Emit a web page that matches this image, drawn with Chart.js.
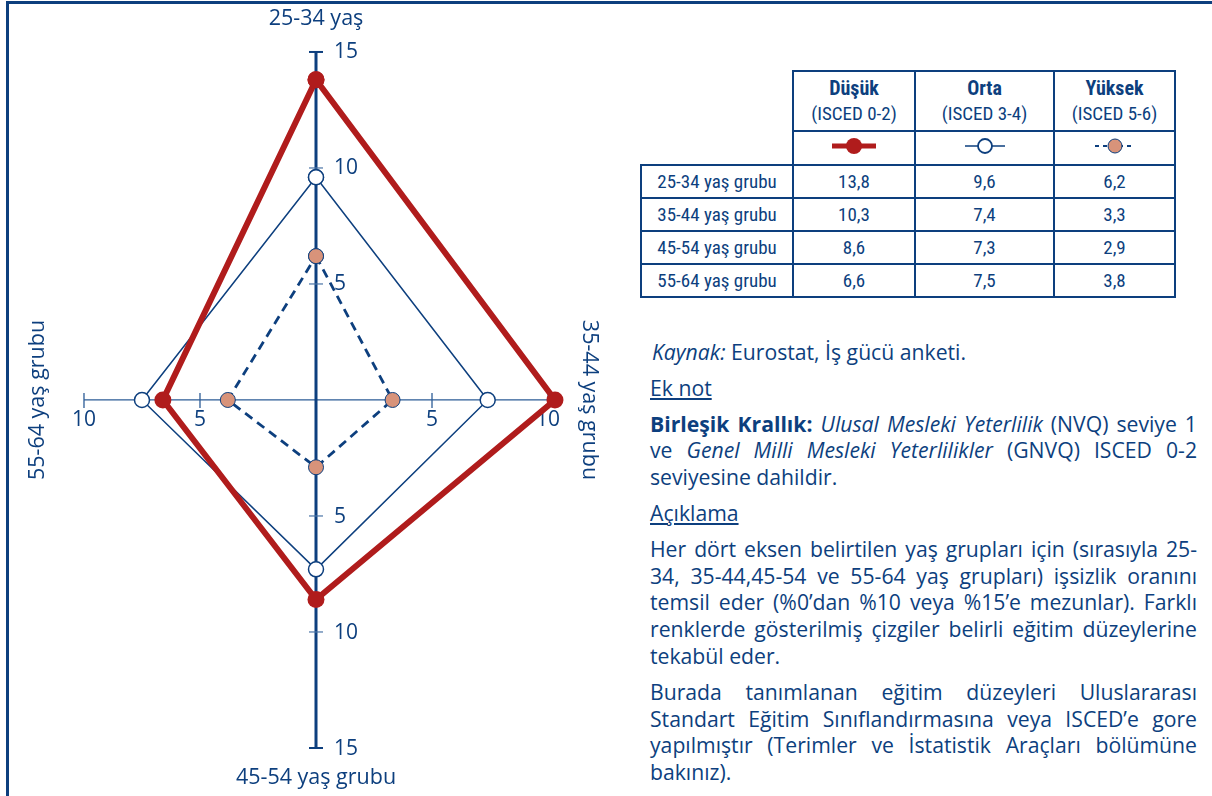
<!DOCTYPE html>
<html lang="tr">
<head>
<meta charset="utf-8">
<script src="https://cdn.jsdelivr.net/npm/chart.js@4/dist/chart.umd.min.js"></script>
<style>
    html, body { margin: 0; padding: 0; background: #fff; }
    body { width: 1212px; height: 796px; position: relative; overflow: hidden; color: #0d3f7e; font-family: "Open Sans", "Noto Sans", sans-serif; }
    .frame { position: absolute; left: 6px; top: 1px; right: -10px; bottom: -10px; border-top: 3px solid #0d3f7e; border-left: 3px solid #0d3f7e; }
    #chartBox { position: absolute; left: 0; top: 0; }
    table.values { position: absolute; left: 640px; top: 70px; border-collapse: collapse; font-family: "Liberation Sans Narrow", "Roboto Condensed", "Open Sans", sans-serif; font-size: 19px; color: #0d3f7e; }
    table.values td, table.values th { border: 2.5px solid #0d3f7e; text-align: center; padding: 0; }
    table.values th { font-weight: normal; height: 58px; line-height: 25px; }
    table.values th b { font-size: 20px; }
    table.values th.blank { border: none; }
    table.values td { height: 31px; }
    table.values td.legendCell { height: 32px; }
    table.values .c0 { width: 150px; }
    table.values .c1 { width: 120px; }
    table.values .c2 { width: 137px; }
    table.values .c3 { width: 119px; }
    .notes { position: absolute; left: 650px; top: 339px; width: 547px; font-size: 21.2px; line-height: 26.8px; text-align: justify; }
    .notes p { margin: 0 0 9px 0; }
    .notes .u { text-decoration: underline; }
</style>
</head>
<body>
<div class="frame"></div>
<div id="chartBox"><canvas id="radar" width="632" height="796"></canvas></div>
<table class="values" id="valuesTable"></table>
<div class="notes">
    <p style="padding-left:2px"><i>Kaynak:</i> Eurostat, İş gücü anketi.</p>
    <p class="u">Ek not</p>
    <p><b>Birleşik Krallık:</b> <i>Ulusal Mesleki Yeterlilik</i> (NVQ) seviye 1 ve <i>Genel Milli Mesleki Yeterlilikler</i> (GNVQ) ISCED 0-2 seviyesine dahildir.</p>
    <p class="u">Açıklama</p>
    <p>Her dört eksen belirtilen yaş grupları için (sırasıyla 25-34, 35-44,45-54 ve 55-64 yaş grupları) işsizlik oranını temsil eder (%0’dan %10 veya %15’e mezunlar). Farklı renklerde gösterilmiş çizgiler belirli eğitim düzeylerine tekabül eder.</p>
    <p>Burada tanımlanan eğitim düzeyleri Uluslararası Standart Eğitim Sınıflandırmasına veya ISCED’e gore yapılmıştır (Terimler ve İstatistik Araçları bölümüne bakınız).</p>
</div>
<script>
// Veriler
const ageGroups = ['25-34 yaş grubu', '35-44 yaş grubu', '45-54 yaş grubu', '55-64 yaş grubu'];
const axisTitles = ['25-34 yaş', '35-44 yaş grubu', '45-54 yaş grubu', '55-64 yaş grubu'];
const levelNames = ['Düşük', 'Orta', 'Yüksek'];
const levelCodes = ['(ISCED 0-2)', '(ISCED 3-4)', '(ISCED 5-6)'];
const dusuk = [13.8, 10.3, 8.6, 6.6];
const orta = [9.6, 7.4, 7.3, 7.5];
const yuksek = [6.2, 3.3, 2.9, 3.8];
const verticalTicks = [5, 10, 15];
const horizontalTicks = [5, 10];

const BLUE = '#0d3f7e';
const RED = '#b01c1c';
const SALMON = '#d8937a';

// üst, sağ, alt, sol
const directions = [[0, 1], [1, 0], [0, -1], [-1, 0]];

function toPoints(values) {
    const pts = values.map((v, i) => ({ x: directions[i][0] * v, y: directions[i][1] * v }));
    pts.push(pts[0]);
    return pts;
}

function fmt(v) {
    return v.toFixed(1).replace('.', ',');
}

// Tablo
function buildTable() {
    const table = document.getElementById('valuesTable');
    const legendSvg = [
        '<svg width="50" height="20"><line x1="3" y1="10" x2="47" y2="10" stroke="' + RED + '" stroke-width="5"/><circle cx="25" cy="10" r="8" fill="' + RED + '"/></svg>',
        '<svg width="50" height="20"><line x1="5" y1="10" x2="45" y2="10" stroke="' + BLUE + '" stroke-width="1.5"/><circle cx="25" cy="10" r="7" fill="#fff" stroke="' + BLUE + '" stroke-width="1.8"/></svg>',
        '<svg width="50" height="20"><line x1="5" y1="10" x2="45" y2="10" stroke="' + BLUE + '" stroke-width="1.8" stroke-dasharray="4,4"/><circle cx="25" cy="10" r="7" fill="' + SALMON + '" stroke="' + BLUE + '" stroke-width="1"/></svg>'
    ];
    let html = '<tr><th class="blank c0"></th>';
    levelNames.forEach((n, i) => {
        html += '<th class="c' + (i + 1) + '"><b>' + n + '</b><br>' + levelCodes[i] + '</th>';
    });
    html += '</tr><tr><th class="blank c0" style="height:32px"></th>';
    legendSvg.forEach(s => { html += '<td class="legendCell">' + s + '</td>'; });
    html += '</tr>';
    ageGroups.forEach((g, i) => {
        html += '<tr><td class="c0">' + g + '</td><td>' + fmt(dusuk[i]) + '</td><td>' + fmt(orta[i]) + '</td><td>' + fmt(yuksek[i]) + '</td></tr>';
    });
    table.innerHTML = html;
}

// Eksenler
const crossAxes = {
    id: 'crossAxes',
    beforeDatasetsDraw(chart) {
        const { ctx, scales: { x, y } } = chart;
        const cx = x.getPixelForValue(0);
        const cy = y.getPixelForValue(0);
        const hMax = horizontalTicks[horizontalTicks.length - 1];
        const vMax = verticalTicks[verticalTicks.length - 1];
        ctx.save();

        // yatay eksen
        ctx.strokeStyle = '#2c5c96';
        ctx.lineWidth = 1.3;
        ctx.beginPath();
        ctx.moveTo(x.getPixelForValue(-hMax), cy);
        ctx.lineTo(x.getPixelForValue(hMax), cy);
        horizontalTicks.forEach(t => {
            [-t, t].forEach(v => {
                const px = x.getPixelForValue(v);
                ctx.moveTo(px, cy - 7);
                ctx.lineTo(px, cy + 8);
            });
        });
        ctx.stroke();

        // dikey eksen
        ctx.strokeStyle = BLUE;
        ctx.lineWidth = 3;
        ctx.beginPath();
        ctx.moveTo(cx, y.getPixelForValue(vMax));
        ctx.lineTo(cx, y.getPixelForValue(-vMax));
        ctx.stroke();
        verticalTicks.forEach(t => {
            [-t, t].forEach(v => {
                const py = y.getPixelForValue(v);
                ctx.lineWidth = t === vMax ? 2 : 1.2;
                ctx.strokeStyle = t === vMax ? BLUE : '#4a74a6';
                ctx.beginPath();
                ctx.moveTo(cx - 7, py);
                ctx.lineTo(cx + 7, py);
                ctx.stroke();
            });
        });

        // etiketler
        ctx.fillStyle = BLUE;
        ctx.font = '21px "Open Sans", sans-serif';
        ctx.textAlign = 'left';
        ctx.textBaseline = 'middle';
        verticalTicks.forEach(t => {
            ctx.fillText(String(t), cx + 18, y.getPixelForValue(t));
            ctx.fillText(String(t), cx + 18, y.getPixelForValue(-t) + 1);
        });
        ctx.textAlign = 'center';
        ctx.textBaseline = 'top';
        horizontalTicks.forEach(t => {
            ctx.fillText(String(t), x.getPixelForValue(t), cy + 10);
            ctx.fillText(String(t), x.getPixelForValue(-t), cy + 10);
        });

        // eksen başlıkları
        ctx.font = '21.5px "Open Sans", sans-serif';
        ctx.textBaseline = 'middle';
        ctx.fillText(axisTitles[0], cx, 19);
        ctx.fillText(axisTitles[2], cx, 778);
        ctx.save();
        ctx.translate(589, cy);
        ctx.rotate(Math.PI / 2);
        ctx.fillText(axisTitles[1], 0, 0);
        ctx.restore();
        ctx.save();
        ctx.translate(38, cy);
        ctx.rotate(-Math.PI / 2);
        ctx.fillText(axisTitles[3], 0, 0);
        ctx.restore();

        ctx.restore();
    }
};

buildTable();

new Chart(document.getElementById('radar'), {
    type: 'scatter',
    data: {
        datasets: [
            {
                label: levelNames[1],
                data: toPoints(orta),
                showLine: true,
                borderColor: BLUE,
                borderWidth: 1.5,
                pointRadius: 7.5,
                pointBackgroundColor: '#fff',
                pointBorderColor: BLUE,
                pointBorderWidth: 1.5,
                order: 3
            },
            {
                label: levelNames[2],
                data: toPoints(yuksek),
                showLine: true,
                borderColor: BLUE,
                borderWidth: 2.8,
                borderDash: [9, 6],
                pointRadius: 7.5,
                pointBackgroundColor: SALMON,
                pointBorderColor: BLUE,
                pointBorderWidth: 1,
                order: 2
            },
            {
                label: levelNames[0],
                data: toPoints(dusuk),
                showLine: true,
                borderColor: RED,
                borderWidth: 6,
                pointRadius: 8.5,
                pointBackgroundColor: RED,
                pointBorderColor: RED,
                pointBorderWidth: 0,
                order: 1
            }
        ]
    },
    options: {
        responsive: false,
        animation: false,
        layout: { padding: 0, autoPadding: false },
        plugins: {
            legend: { display: false },
            tooltip: { enabled: false }
        },
        scales: {
            x: { type: 'linear', min: -13.62, max: 13.62, display: false },
            y: { type: 'linear', min: -17.07, max: 17.24, display: false }
        }
    },
    plugins: [crossAxes]
});
</script>
</body>
</html>
